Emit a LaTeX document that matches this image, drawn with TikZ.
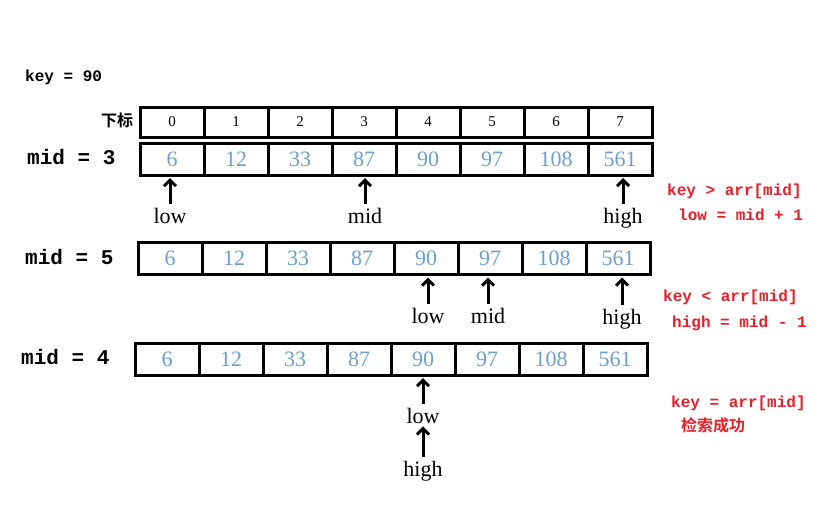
\documentclass[tikz,border=0pt]{standalone}
\usepackage{fontspec}
\setmainfont{Liberation Serif}
\newfontfamily\monob{Liberation Mono}[BoldFont={Liberation Mono Bold}]
\newfontfamily\cjkb{Noto Sans CJK SC Bold}
\usetikzlibrary{arrows.meta}
\definecolor{valblue}{RGB}{110,158,205}
\definecolor{redtxt}{RGB}{232,30,40}
\begin{document}
\begin{tikzpicture}[x=1pt,y=-1pt,
  cell/.style={draw=black,line width=3pt,minimum width=64pt,inner sep=0pt,outer sep=0pt},
  idxcell/.style={cell,minimum height=30pt,font=\fontsize{15}{15}\selectfont},
  valcell/.style={cell,minimum height=32pt,text=valblue,font=\fontsize{22}{22}\selectfont},
  ptr/.style={anchor=base,inner sep=0pt,font=\fontsize{22}{22}\selectfont},
  arr/.style={line width=3pt,-{Straight Barb[length=6pt,width=12pt,line width=3pt]},shorten >=3pt,shorten <=4pt},
  midlbl/.style={anchor=base west,inner sep=0pt,font=\monob\bfseries\fontsize{21}{21}\selectfont},
  redlbl/.style={anchor=base west,inner sep=0pt,text=redtxt,font=\monob\bfseries\fontsize{16}{16}\selectfont}]
\useasboundingbox (0,0) rectangle (833,504);

\node[anchor=base west,inner sep=0pt,font=\monob\bfseries\fontsize{16}{16}\selectfont] (key) at (25,81) {key = 90};
\node[inner sep=0pt,font=\cjkb\fontsize{16}{16}\selectfont] (xb) at (117,120) {下标};

% index row
\foreach \v [count=\i from 0] in {0,1,2,3,4,5,6,7}
  \node[idxcell] (ix\i) at (172+64*\i,122) {\v};

% value rows
\foreach \v [count=\i from 0] in {6,12,33,87,90,97,108,561}{
  \node[valcell] (a\i) at (172+64*\i,159) {\v};
  \node[valcell] (b\i) at (170+64*\i,258.5) {\v};
  \node[valcell] (c\i) at (167+64*\i,359) {\v};
}

\node[midlbl] (m1) at (27,164) {mid = 3};
\node[midlbl] (m2) at (25,264) {mid = 5};
\node[midlbl] (m3) at (21,364) {mid = 4};

% row 1 pointers
\node[ptr] (low1) at (170,223) {low};
\node[ptr] (mid1) at (365,223) {mid};
\node[ptr] (high1) at (623,223) {high};
\draw[arr] (low1.north) -- (low1.north |- a0.south);
\draw[arr] (mid1.north) -- (mid1.north |- a3.south);
\draw[arr] (high1.north) -- (high1.north |- a7.south);

% row 2 pointers
\node[ptr] (low2) at (428,323) {low};
\node[ptr] (mid2) at (488,323) {mid};
\node[ptr] (high2) at (622,324) {high};
\draw[arr] (low2.north) -- (low2.north |- b4.south);
\draw[arr] (mid2.north) -- (mid2.north |- b5.south);
\draw[arr] (high2.north) -- (high2.north |- b7.south);

% row 3 pointers
\node[ptr] (low3) at (423,423) {low};
\node[ptr] (high3) at (423,476) {high};
\draw[arr] (low3.north) -- (low3.north |- c4.south);
\draw[arr] (high3.north) -- (low3.south);

% red notes
\node[redlbl] (n1a) at (667,195) {key > arr[mid]};
\node[redlbl] (n1b) at (678,220) {low = mid + 1};
\node[redlbl] (n2a) at (663,301) {key < arr[mid]};
\node[redlbl] (n2b) at (672,327) {high = mid - 1};
\node[redlbl] (n3a) at (671,407) {key = arr[mid]};
\node[anchor=west,inner sep=0pt,text=redtxt,font=\cjkb\fontsize{16}{16}\selectfont] (n3b) at (681,425) {检索成功};
\end{tikzpicture}
\end{document}
